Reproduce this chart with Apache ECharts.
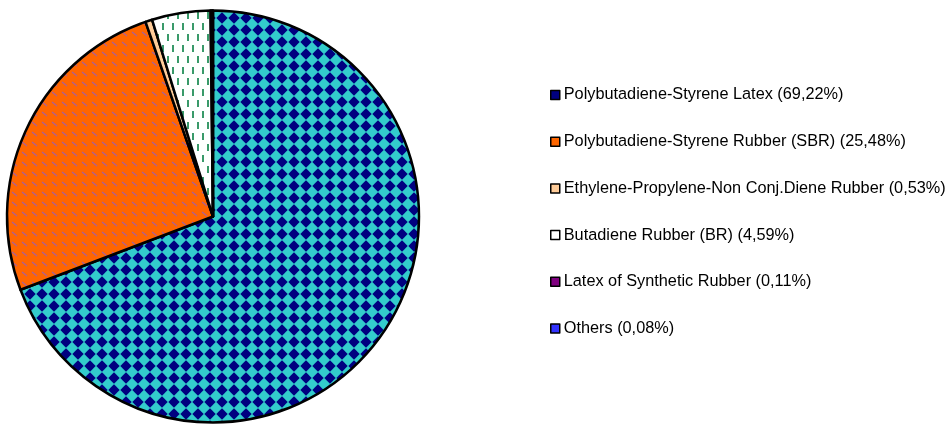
<!DOCTYPE html>
<html>
<head>
<meta charset="utf-8">
<script src="https://cdn.jsdelivr.net/npm/echarts@6/dist/echarts.min.js"></script>
<style>
html,body{margin:0;padding:0;background:#fff;}
#chart{width:950px;height:426px;}
</style>
</head>
<body>
<div id="chart"></div>
<script>
const categories = [
  'Polybutadiene-Styrene Latex',
  'Polybutadiene-Styrene Rubber (SBR)',
  'Ethylene-Propylene-Non Conj.Diene Rubber',
  'Butadiene Rubber (BR)',
  'Latex of Synthetic Rubber',
  'Others'
];
const values = [69.22, 25.48, 0.53, 4.59, 0.11, 0.08];
const baseColors = ['#000080', '#FF6600', '#FFCC99', '#FFFFFF', '#800080', '#3333FF'];

function tile(w, h, draw) {
  const c = document.createElement('canvas');
  c.width = w; c.height = h;
  const ctx = c.getContext('2d');
  draw(ctx, w, h);
  return { image: c, repeat: 'repeat' };
}

// diagonal checker (navy diamonds on turquoise)
const patDiamond = tile(12, 12, (ctx, w, h) => {
  ctx.fillStyle = '#33CCCC';
  ctx.fillRect(0, 0, w, h);
  ctx.fillStyle = '#000080';
  ctx.beginPath();
  ctx.moveTo(w / 2, 0.3); ctx.lineTo(w - 0.3, h / 2); ctx.lineTo(w / 2, h - 0.3); ctx.lineTo(0.3, h / 2);
  ctx.closePath(); ctx.fill();
});

// orange with diagonal purple dashes
const patOrange = tile(10, 10, (ctx, w, h) => {
  ctx.fillStyle = '#FF6600';
  ctx.fillRect(0, 0, w, h);
  ctx.strokeStyle = '#A8609A';
  ctx.lineWidth = 1.2;
  ctx.beginPath();
  ctx.moveTo(2, 2); ctx.lineTo(7, 6);
  ctx.stroke();
});

// white with vertical green dashes
const patWhite = tile(10, 22, (ctx, w, h) => {
  ctx.fillStyle = '#FFFFFF';
  ctx.fillRect(0, 0, w, h);
  ctx.fillStyle = '#3A9A6A';
  ctx.fillRect(2, 1, 2, 7);
  ctx.fillRect(7, 12, 2, 7);
});

const patOthers = tile(4, 4, (ctx, w, h) => {
  ctx.fillStyle = '#3333FF';
  ctx.fillRect(0, 0, w, h);
  ctx.fillStyle = '#FFFFFF';
  ctx.fillRect(0, 2, w, 1);
});

const fills = [patDiamond, patOrange, '#FFCC99', patWhite, '#800080', patOthers];

function pct(v) { return v.toFixed(2).replace('.', ',') + '%'; }

const chart = echarts.init(document.getElementById('chart'), null, { renderer: 'canvas' });
chart.setOption({
  animation: false,
  backgroundColor: '#fff',
  legend: {
    orient: 'vertical',
    left: 550,
    top: 87,
    padding: 0,
    itemWidth: 9,
    itemHeight: 9,
    itemGap: 30.7,
    icon: 'rect',
    selectedMode: false,
    data: categories.map((c, i) => ({
      name: c,
      itemStyle: { color: baseColors[i], borderColor: '#000', borderWidth: 1.5 }
    })),
    formatter: name => name + ' (' + pct(values[categories.indexOf(name)]) + ')',
    textStyle: {
      fontFamily: 'Liberation Sans, Arial, sans-serif',
      fontSize: 16.3,
      lineHeight: 16,
      color: '#000',
      padding: [0, 0, 0, -1]
    }
  },
  series: [{
    type: 'pie',
    center: [213, 216.5],
    radius: 206,
    startAngle: 90,
    clockwise: true,
    label: { show: false },
    labelLine: { show: false },
    emphasis: { disabled: true },
    silent: true,
    itemStyle: { borderColor: '#000', borderWidth: 2.5 },
    data: categories.map((c, i) => ({
      name: c,
      value: values[i],
      itemStyle: { color: fills[i] }
    }))
  }]
});
</script>
</body>
</html>
